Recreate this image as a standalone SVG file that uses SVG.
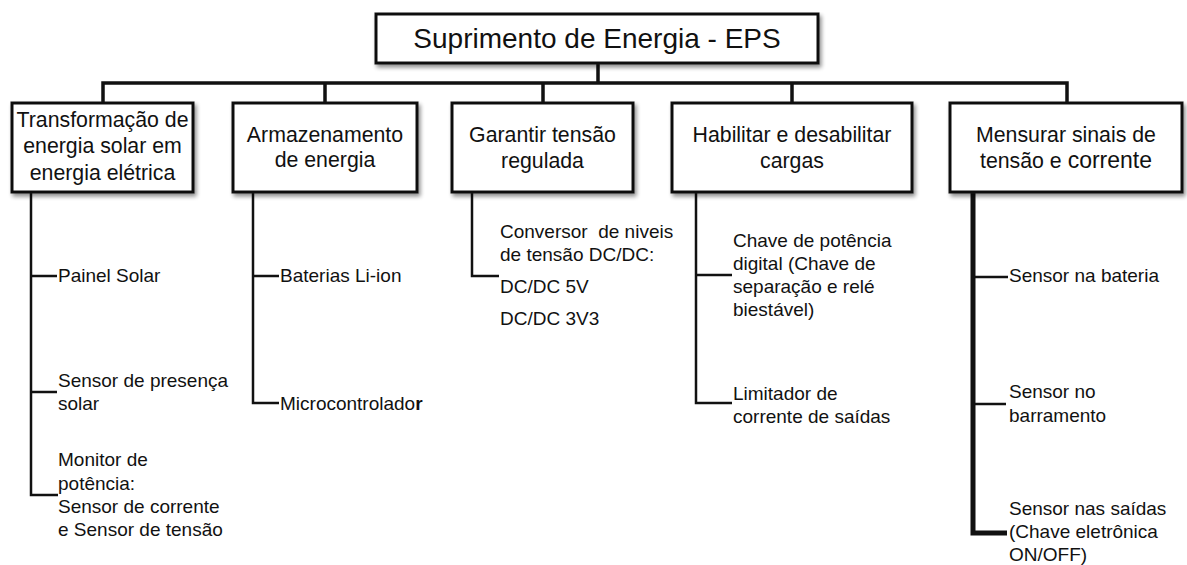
<svg xmlns="http://www.w3.org/2000/svg" width="1187" height="565" viewBox="0 0 1187 565">
<defs>
<filter id="sh" x="-10%" y="-10%" width="125%" height="135%">
<feGaussianBlur in="SourceAlpha" stdDeviation="2"/>
<feOffset dx="2" dy="3" result="b"/>
<feComponentTransfer><feFuncA type="linear" slope="0.45"/></feComponentTransfer>
<feMerge><feMergeNode/><feMergeNode in="SourceGraphic"/></feMerge>
</filter>
</defs>
<style>
.box{fill:#fff;stroke:#111;stroke-width:3;filter:url(#sh)}
.t{font-family:"Liberation Sans",Arial,sans-serif;fill:#111}
.title{font-size:28px;text-anchor:middle}
.head{font-size:21.3px;text-anchor:middle}
.leaf{font-size:19px}
.ln{fill:none;stroke:#111;stroke-width:2.5}
.bus{fill:none;stroke:#111;stroke-width:3.5}
.thick{fill:none;stroke:#111;stroke-width:5}
</style>
<rect width="1187" height="565" fill="#fff"/>
<g id="connectors">
<path class="bus" d="M598 63 V83 M103 103 V83 H1067 V103 M325 83 V103 M543 83 V103 M792 83 V103"/>
<path class="ln" d="M31 193 V495 H58 M31 276 H57 M31 392 H57"/>
<path class="ln" d="M253 193 V403 H279 M253 276 H279"/>
<path class="ln" d="M472 193 V276 H499"/>
<path class="ln" d="M696 193 V403 H732 M696 275 H732"/>
<path class="thick" d="M973 193 V533 H1007"/>
<path class="ln" d="M973 277 H1008 M973 404 H1006"/>
</g>
<g id="root">
<rect class="box" x="376" y="14" width="442" height="49"/>
<text class="t title" x="597" y="48">Suprimento de Energia - EPS</text>
</g>
<g id="n1">
<rect class="box" x="12" y="103" width="181" height="89"/>
<text class="t head" x="102.5" y="127">Transformação de</text>
<text class="t head" x="102.5" y="153">energia solar em</text>
<text class="t head" x="102.5" y="180">energia elétrica</text>
</g>
<g id="n2">
<rect class="box" x="233" y="103" width="184" height="89"/>
<text class="t head" x="325" y="142">Armazenamento</text>
<text class="t head" x="325" y="167">de energia</text>
</g>
<g id="n3">
<rect class="box" x="452" y="103" width="181" height="89"/>
<text class="t head" x="542.5" y="142">Garantir tensão</text>
<text class="t head" x="542.5" y="168">regulada</text>
</g>
<g id="n4">
<rect class="box" x="672" y="103" width="240" height="89"/>
<text class="t head" x="792" y="142">Habilitar e desabilitar</text>
<text class="t head" x="792" y="168">cargas</text>
</g>
<g id="n5">
<rect class="box" x="950" y="103" width="232" height="89"/>
<text class="t head" x="1066" y="142">Mensurar sinais de</text>
<text class="t head" x="1066" y="168">tensão e <tspan font-size="23px">corrente</tspan></text>
</g>
<g id="leaves1">
<text class="t leaf" x="58" y="282">Painel Solar</text>
<text class="t leaf" x="58" y="387">Sensor de presença</text>
<text class="t leaf" x="58" y="410">solar</text>
<text class="t leaf" x="58" y="466">Monitor de</text>
<text class="t leaf" x="58" y="490">potência:</text>
<text class="t leaf" x="58" y="513">Sensor de corrente</text>
<text class="t leaf" x="58" y="536">e Sensor de tensão</text>
</g>
<g id="leaves2">
<text class="t leaf" x="280" y="282">Baterias Li-ion</text>
<text class="t leaf" x="280" y="410">Microcontrolado<tspan font-weight="bold">r</tspan></text>
</g>
<g id="leaves3">
<text class="t leaf" x="500" y="238" xml:space="preserve">Conversor  de niveis</text>
<text class="t leaf" x="500" y="261">de tensão DC/DC:</text>
<text class="t leaf" x="500" y="293">DC/DC 5V</text>
<text class="t leaf" x="500" y="325">DC/DC 3V3</text>
</g>
<g id="leaves4">
<text class="t leaf" x="733" y="247">Chave de potência</text>
<text class="t leaf" x="733" y="270">digital (Chave de</text>
<text class="t leaf" x="733" y="293">separação e relé</text>
<text class="t leaf" x="733" y="316">biestável)</text>
<text class="t leaf" x="733" y="400">Limitador de</text>
<text class="t leaf" x="733" y="423">corrente de saídas</text>
</g>
<g id="leaves5">
<text class="t leaf" x="1009" y="282">Sensor na bateria</text>
<text class="t leaf" x="1009" y="398">Sensor no</text>
<text class="t leaf" x="1009" y="422">barramento</text>
<text class="t leaf" x="1009" y="515">Sensor nas saídas</text>
<text class="t leaf" x="1009" y="538">(Chave eletrônica</text>
<text class="t leaf" x="1009" y="561">ON/OFF)</text>
</g>
</svg>
